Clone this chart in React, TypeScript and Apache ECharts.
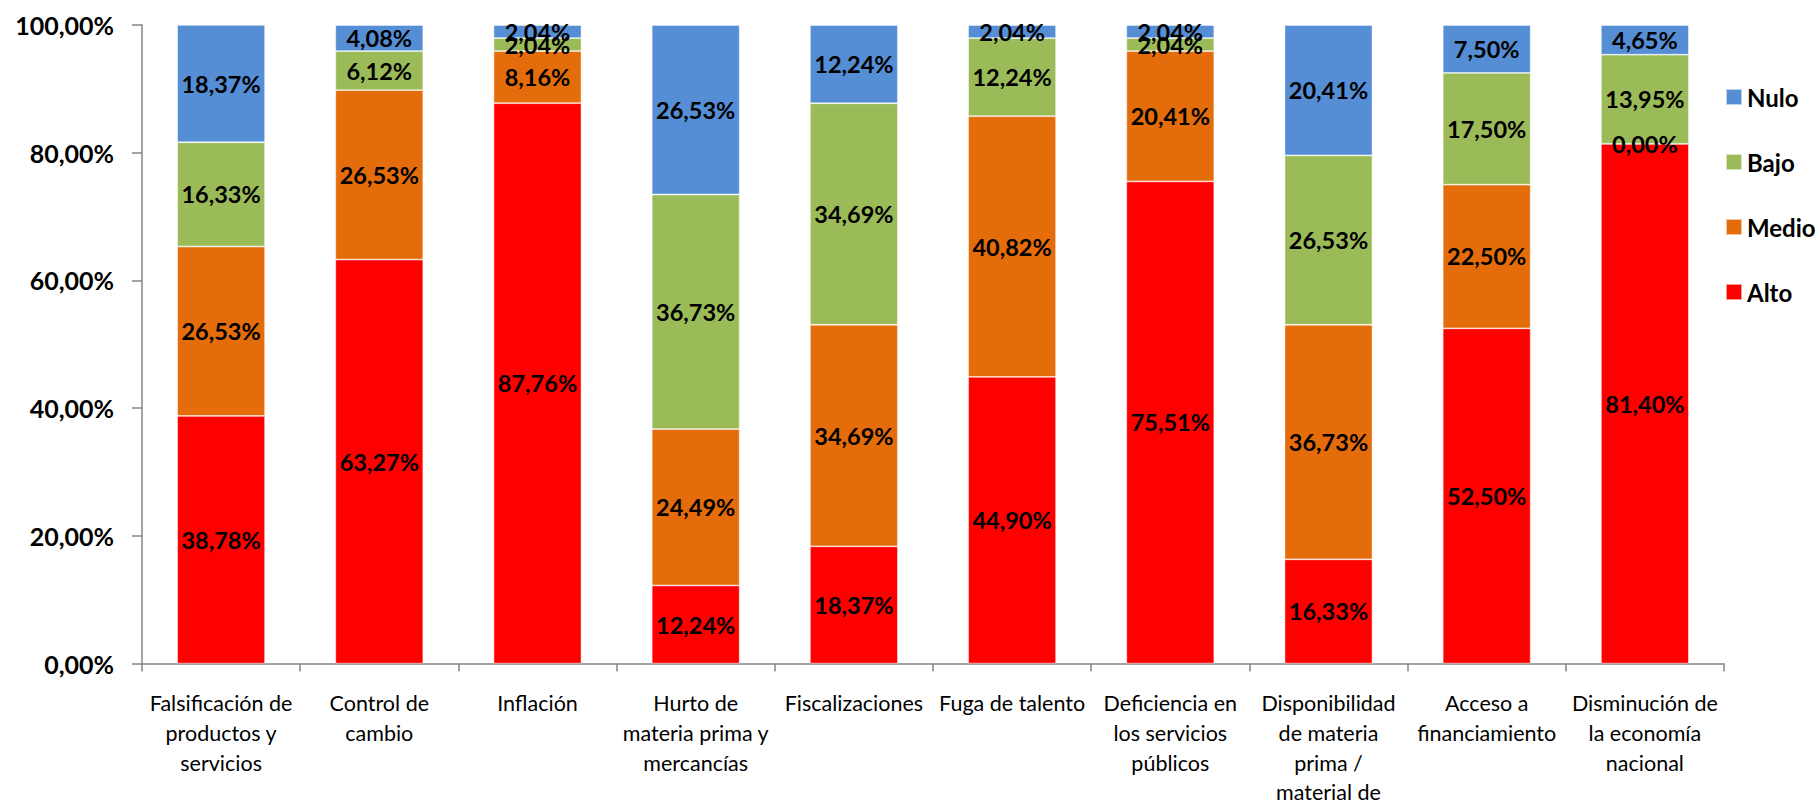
import React, { useEffect, useRef } from "react";
import * as echarts from "echarts";

const categories = [
  "Falsificación de\nproductos y\nservicios",
  "Control de\ncambio",
  "Inflación",
  "Hurto de\nmateria prima y\nmercancías",
  "Fiscalizaciones",
  "Fuga de talento",
  "Deficiencia en\nlos servicios\npúblicos",
  "Disponibilidad\nde materia\nprima /\nmaterial de",
  "Acceso a\nfinanciamiento",
  "Disminución de\nla economía\nnacional",
];

const alto = [38.78, 63.27, 87.76, 12.24, 18.37, 44.9, 75.51, 16.33, 52.5, 81.4];
const medio = [26.53, 26.53, 8.16, 24.49, 34.69, 40.82, 20.41, 36.73, 22.5, 0.0];
const bajo = [16.33, 6.12, 2.04, 36.73, 34.69, 12.24, 2.04, 26.53, 17.5, 13.95];
const nulo = [18.37, 4.08, 2.04, 26.53, 12.24, 2.04, 2.04, 20.41, 7.5, 4.65];

const seriesNames = ["Alto", "Medio", "Bajo", "Nulo"];
const seriesColors = ["#FF0000", "#E46C0A", "#9BBB59", "#558ED5"];
const seriesData = [alto, medio, bajo, nulo];
const yTicks = { min: 0, max: 100, interval: 20 };

const fmt = (v: number) => v.toFixed(2).replace(".", ",") + "%";

export default function App() {
  const ref = useRef<HTMLDivElement>(null);
  useEffect(() => {
    document.body.style.margin = "0";
    if (!ref.current) return;
    const chart = echarts.init(ref.current, null, { renderer: "svg" });
    chart.setOption({
      animation: false,
      backgroundColor: "#ffffff",
      grid: { left: 142, right: 95, top: 25, bottom: 128, containLabel: false },
      legend: {
        data: ["Nulo", "Bajo", "Medio", "Alto"],
        orient: "vertical",
        left: 1720,
        top: 80,
        icon: "rect",
        itemWidth: 16,
        itemHeight: 16,
        itemGap: 41,
        selectedMode: false,
        textStyle: {
          fontFamily: "Lato",
          fontWeight: "bold",
          fontSize: 24,
          lineHeight: 24,
          color: "#000",
        },
      },
      xAxis: {
        type: "category",
        data: categories,
        axisLine: { lineStyle: { color: "#868686", width: 1.5 } },
        axisTick: { show: true, length: 8, lineStyle: { color: "#868686", width: 1.5 } },
        axisLabel: {
          interval: 0,
          margin: 25,
          fontFamily: "Lato",
          fontSize: 21.5,
          lineHeight: 29.6,
          color: "#000",
        },
      },
      yAxis: {
        type: "value",
        min: yTicks.min,
        max: yTicks.max,
        interval: yTicks.interval,
        splitLine: { show: false },
        axisLine: { show: true, lineStyle: { color: "#868686", width: 1.5 } },
        axisTick: { show: true, length: 10, lineStyle: { color: "#868686", width: 1.5 } },
        axisLabel: {
          margin: 28,
          fontFamily: "Lato",
          fontWeight: "bold",
          fontSize: 25,
          color: "#000",
          formatter: (v: number) => fmt(v),
        },
      },
      series: seriesNames.map((name, i) => ({
        name,
        type: "bar",
        stack: "total",
        barWidth: "55.6%",
        data: seriesData[i],
        itemStyle: { color: seriesColors[i], borderColor: "rgba(255,255,255,0.6)", borderWidth: 0.8 },
        label: {
          show: true,
          position: "inside",
          fontFamily: "Lato",
          fontWeight: "bold",
          fontSize: 23.5,
          color: "#000",
          formatter: (p: any) => fmt(p.value),
        },
      })),
    });
    return () => chart.dispose();
  }, []);
  return <div ref={ref} style={{ width: 1819, height: 807 }} />;
}
